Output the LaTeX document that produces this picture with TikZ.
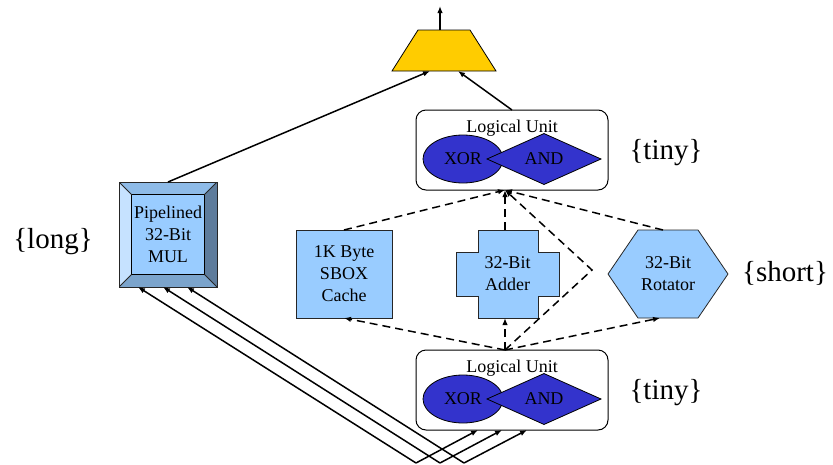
\documentclass[tikz,border=0pt]{standalone}
\usepackage{fontspec}
\setmainfont{Liberation Serif}
\usetikzlibrary{arrows.meta,shapes.geometric,calc,backgrounds}
\definecolor{unitblue}{HTML}{99CCFF}
\definecolor{gateblue}{HTML}{3333CC}
\definecolor{muxyellow}{HTML}{FFCC00}
\definecolor{bevL}{HTML}{C6E2FF}
\definecolor{bevT}{HTML}{8EBBE8}
\definecolor{bevR}{HTML}{5E7C9C}
\definecolor{bevB}{HTML}{7BA4CC}
\begin{document}
\begin{tikzpicture}[x=1pt,y=-1pt,
  every node/.style={outer sep=0pt},
  box/.style={font=\fontsize{18}{22}\selectfont, align=center, inner sep=0pt},
  frame/.style={draw=black!85, line width=0.8pt, fill=unitblue},
  wire/.style={line width=1.5pt, -{Latex[length=7pt,width=5.5pt]}},
  flow/.style={line width=1.5pt, dash pattern=on 8pt off 5pt, -{Latex[length=7pt,width=5.5pt]}},
  tag/.style={font=\fontsize{29}{30}\selectfont, inner sep=0pt},
  unit/.style={draw, rounded corners=10pt, line width=1pt, minimum width=192pt, minimum height=80pt, inner sep=0pt},
  gate/.style={draw, fill=gateblue, line width=0.8pt, font=\fontsize{18}{22}\selectfont, inner sep=0pt}
]
\useasboundingbox (0,0) rectangle (833,464);

% output multiplexer
\node[minimum width=104pt, minimum height=41pt, inner sep=0pt] (mux) at (444,50.5) {};
\filldraw[fill=muxyellow, draw=black, line width=0.8pt]
  ($(mux.north west)+(0,41)$) -- ($(mux.north west)+(26,0)$) --
  ($(mux.north west)+(78,0)$) -- ($(mux.north west)+(104,41)$) -- cycle;
\coordinate (out) at (440,6);

% logical units
\node[unit] (lu1) at (512,150) {};
\node[box] (lu1t) at (512,128) {Logical Unit};
\node[gate, ellipse, minimum width=80pt, minimum height=48pt] (xor1) at (463,159) {XOR};
\node[gate, diamond, minimum width=114pt, minimum height=49pt] (and1) at (544,159) {AND};

\node[unit] (lu2) at (512,390) {};
\node[box] (lu2t) at (512,368) {Logical Unit};
\node[gate, ellipse, minimum width=80pt, minimum height=48pt] (xor2) at (463,399) {XOR};
\node[gate, diamond, minimum width=114pt, minimum height=49pt] (and2) at (544,399) {AND};

% pipelined multiplier with bevelled frame
\node[box, minimum width=98pt, minimum height=105pt, draw=black!85, line width=0.8pt,
  path picture={
    \coordinate (nw) at (path picture bounding box.north west);
    \coordinate (ne) at (path picture bounding box.north east);
    \coordinate (sw) at (path picture bounding box.south west);
    \coordinate (se) at (path picture bounding box.south east);
    \coordinate (nwi) at ($(nw)+(12.5,12.5)$);
    \coordinate (nei) at ($(ne)+(-12.5,12.5)$);
    \coordinate (swi) at ($(sw)+(12.5,-12.5)$);
    \coordinate (sei) at ($(se)+(-12.5,-12.5)$);
    \fill[bevT] (nw) -- (ne) -- (nei) -- (nwi) -- cycle;
    \fill[bevR] (ne) -- (se) -- (sei) -- (nei) -- cycle;
    \fill[bevB] (se) -- (sw) -- (swi) -- (sei) -- cycle;
    \fill[bevL] (sw) -- (nw) -- (nwi) -- (swi) -- cycle;
    \filldraw[fill=unitblue, draw=black, line width=0.8pt] (nwi) rectangle (sei);
    \draw[line width=0.8pt] (nw) -- (nwi) (ne) -- (nei) (se) -- (sei) (sw) -- (swi);
  }] (mul) at (168,234.5) {Pipelined\\32-Bit\\MUL};

% functional units
\node[box, frame, minimum width=96pt, minimum height=88pt] (sbox) at (344,274) {1K Byte\\SBOX\\Cache};
\node[box, minimum width=103pt, minimum height=88pt] (add) at (507.5,274) {32-Bit\\Adder};
\node[box, minimum width=120pt, minimum height=88pt] (rot) at (668,274) {32-Bit\\Rotator};
\begin{scope}[on background layer]
  \filldraw[frame]
    ($(add.north west)+(22,0)$) -- ($(add.north west)+(82,0)$) --
    ($(add.north west)+(82,22)$) -- ($(add.north west)+(103,22)$) --
    ($(add.north west)+(103,66)$) -- ($(add.north west)+(82,66)$) --
    ($(add.north west)+(82,88)$) -- ($(add.north west)+(22,88)$) --
    ($(add.north west)+(22,66)$) -- ($(add.north west)+(0,66)$) --
    ($(add.north west)+(0,22)$) -- ($(add.north west)+(22,22)$) -- cycle;
  \filldraw[frame]
    ($(rot.north west)+(0,44)$) -- ($(rot.north west)+(30,0)$) --
    ($(rot.north west)+(90,0)$) -- ($(rot.north west)+(120,44)$) --
    ($(rot.north west)+(90,88)$) -- ($(rot.north west)+(30,88)$) -- cycle;
\end{scope}

% latency tags
\node[tag] (tlong) at (53,242) {\{long\}};
\node[tag] (ttiny1) at (666,153) {\{tiny\}};
\node[tag] (tshort) at (785,273) {\{short\}};
\node[tag] (ttiny2) at (666,393) {\{tiny\}};

% result paths
\draw[wire] ([xshift=-4]mux.north) -- (out);
\draw[wire] (mul.north) -- ([xshift=-14]mux.south);
\draw[wire] (lu1.north) -- ([xshift=14]mux.south);

% operand inputs
\coordinate (b1) at (416,463);
\coordinate (b2) at (440,463);
\coordinate (b3) at (464,463);
\draw[wire] (b1) -- ([xshift=-30]mul.south);
\draw[wire] (b2) -- ([xshift=-5]mul.south);
\draw[wire] (b3) -- ([xshift=19]mul.south);
\draw[wire] (b1) -- ([xshift=-34]lu2.south);
\draw[wire] (b2) -- ([xshift=-10]lu2.south);
\draw[wire] (b3) -- ([xshift=15]lu2.south);

% data flow between the logical units
\coordinate (th) at ([xshift=-7]lu1.south);
\coordinate (bh) at ([xshift=-7]lu2.north);
\coordinate (bend) at (592,270);
\draw[flow] (sbox.north) -- (th);
\draw[flow] (th |- add.north) -- (th);
\draw[flow] ([xshift=-5]rot.north) -- (th);
\draw[flow] (bh) -- (sbox.south);
\draw[flow] (bh) -- (th |- add.south);
\draw[flow] (bh) -- ([xshift=-8]rot.south);
\draw[flow] (bh) -- (bend) -- (th);
\end{tikzpicture}
\end{document}
